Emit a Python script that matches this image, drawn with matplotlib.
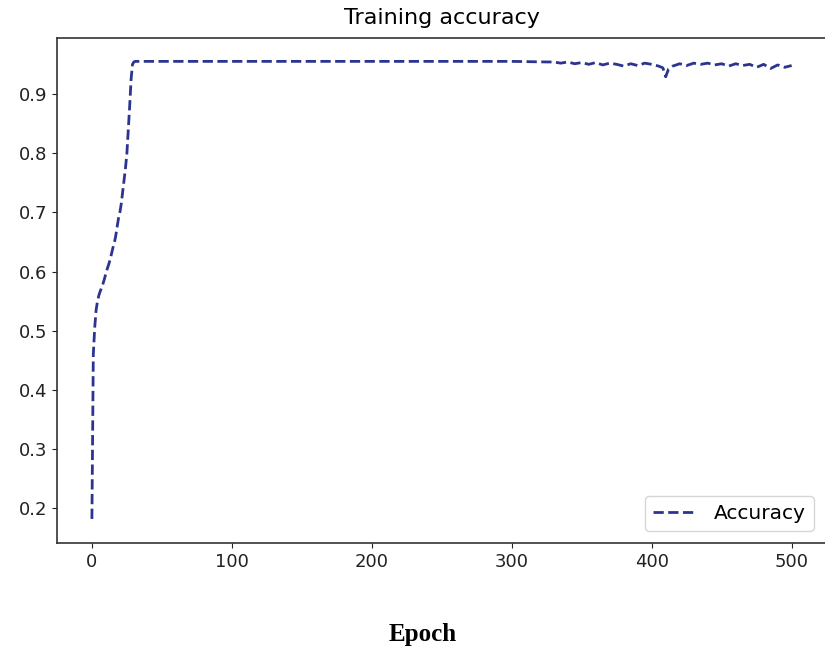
import matplotlib
matplotlib.use("Agg")
import matplotlib.pyplot as plt

# Early training epochs (0..31)
early_epochs = list(range(0, 32))
early_acc = [0.182, 0.46, 0.505, 0.535, 0.550, 0.560, 0.567, 0.573, 0.580, 0.588,
             0.597, 0.605, 0.612, 0.620, 0.630, 0.640, 0.648, 0.660, 0.675, 0.690,
             0.700, 0.715, 0.735, 0.755, 0.775, 0.800, 0.840, 0.880, 0.925, 0.950,
             0.954, 0.955]

# Plateau
plateau_epochs = [40, 100, 200, 300, 325]
plateau_acc = [0.955, 0.955, 0.955, 0.955, 0.954]

# Later noisy region
late_epochs = [330, 335, 340, 345, 350, 355, 360, 365, 370, 375, 380, 385, 390,
               395, 400, 405, 408, 410, 412, 415, 420, 425, 430, 435, 440, 445,
               450, 455, 460, 465, 470, 475, 480, 485, 490, 495, 500]
late_acc = [0.954, 0.952, 0.954, 0.951, 0.953, 0.950, 0.953, 0.949, 0.952, 0.950,
            0.947, 0.951, 0.948, 0.952, 0.950, 0.947, 0.944, 0.929, 0.942, 0.947,
            0.951, 0.948, 0.952, 0.950, 0.952, 0.949, 0.951, 0.947, 0.951, 0.948,
            0.950, 0.945, 0.950, 0.943, 0.949, 0.945, 0.948]

epochs = early_epochs + plateau_epochs + late_epochs
acc = early_acc + plateau_acc + late_acc

x_ticks = [0, 100, 200, 300, 400, 500]
y_ticks = [0.2, 0.3, 0.4, 0.5, 0.6, 0.7, 0.8, 0.9]

fig = plt.figure(figsize=(8.25, 6.49), dpi=100)
ax = fig.add_axes([0.069, 0.163, 0.933, 0.778])
ax.plot(epochs, acc, linestyle="--", color="#2b3590", linewidth=2.0, label="Accuracy")
ax.set_xlim(-25, 525)
ax.set_ylim(0.141, 0.994)
ax.set_xticks(x_ticks)
ax.set_yticks(y_ticks)
ax.set_yticklabels([f"{v:.1f}" for v in y_ticks])
ax.tick_params(labelsize=13, colors="#222222")
for s in ax.spines.values():
    s.set_linewidth(1.2)
    s.set_color("#333333")
ax.set_title("Training accuracy", fontsize=16, pad=10)
ax.legend(loc="lower right", fontsize=14.5, handlelength=2.2, borderpad=0.4,
          bbox_to_anchor=(0.996, 0.005))
fig.text(0.512, 0.005, "Epoch", family="Liberation Serif", fontweight="bold",
         fontsize=18, ha="center", va="bottom")
fig.savefig("out.png", dpi=100)
